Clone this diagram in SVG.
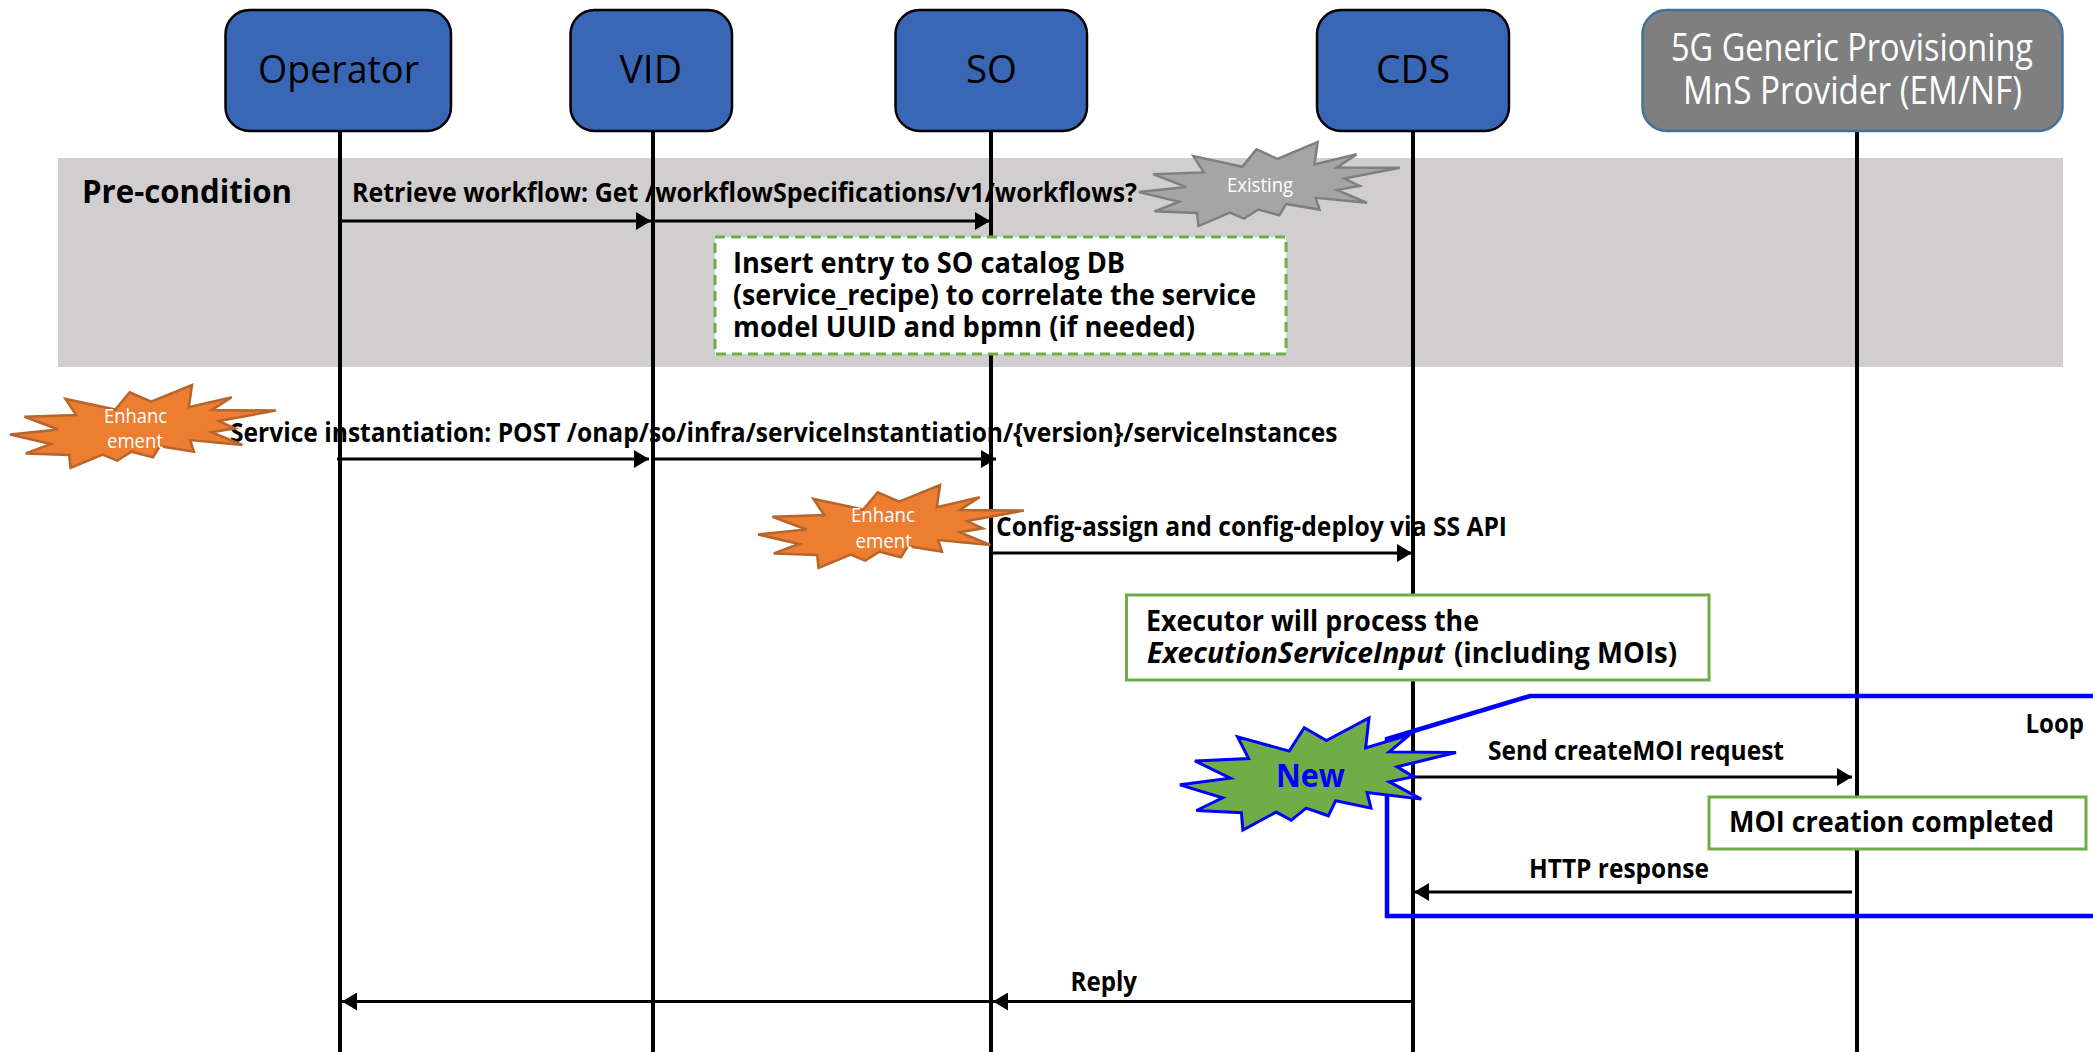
<svg xmlns="http://www.w3.org/2000/svg" xmlns:xlink="http://www.w3.org/1999/xlink" width="2093" height="1052" viewBox="0 0 2093 1052">
<style>
text{font-family:"Open Sans","Noto Sans","Liberation Sans",sans-serif;fill:#000}
.m{font-size:26px;font-weight:700}
.b{font-size:28px;font-weight:700}
.n{font-size:39px}
.s{font-size:20px;fill:#fff}
.w{fill:#fff}
.box{fill:#3a67b5;stroke:#000;stroke-width:2.5}
.life{stroke:#000;stroke-width:4;fill:none}
.arr{stroke:#000;stroke-width:3.2;fill:none;marker-end:url(#ah)}
.note{fill:#fff;stroke:#70ad47;stroke-width:3}
.seal{vector-effect:non-scaling-stroke}
</style>
<defs>
<marker id="ah" markerUnits="userSpaceOnUse" markerWidth="16" markerHeight="18" refX="15" refY="9" orient="auto"><path d="M0,0L15,9L0,18Z" fill="#000"/></marker>
<path id="seal" class="seal" d="M11462,4342L14790,0L14525,5777L18007,3172L16380,6532L21600,6645L16985,9402L18270,11290L16380,12310L18877,15632L14640,14350L14942,17370L12180,15935L11612,18842L9872,17370L8700,19712L7527,18125L4917,21600L4805,18240L1285,17825L3330,15370L0,12877L3935,11592L1172,8270L5372,7817L4502,3625L8550,6382L9722,1887Z"/>
</defs>
<g id="lifelines">
<path class="life" d="M340,131V1052M653,131V1052M991,131V1052M1413,131V1052M1857,131V1052"/>
</g>
<g id="precondition">
<rect x="58" y="158" width="2005" height="209" fill="#d0cece"/>
<path class="life" d="M340,158V367M653,158V367M991,158V367M1413,158V367M1857,158V367"/>
<text x="82" y="203" font-size="33" font-weight="700" textLength="210" lengthAdjust="spacingAndGlyphs">Pre-condition</text>
</g>
<g id="operator"><rect class="box" x="225.500" y="10" width="225.500" height="121" rx="24"/><text class="n" x="258" y="83" textLength="161" lengthAdjust="spacingAndGlyphs">Operator</text></g>
<g id="vid"><rect class="box" x="570.500" y="10" width="161.500" height="121" rx="24"/><text class="n" x="619.500" y="83" textLength="62.500" lengthAdjust="spacingAndGlyphs">VID</text></g>
<g id="so"><rect class="box" x="895.500" y="10" width="191.500" height="121" rx="24"/><text class="n" x="966" y="83" textLength="51" lengthAdjust="spacingAndGlyphs">SO</text></g>
<g id="cds"><rect class="box" x="1317" y="10" width="192" height="121" rx="24"/><text class="n" x="1376" y="83" textLength="74" lengthAdjust="spacingAndGlyphs">CDS</text></g>
<g id="provider"><rect x="1642.500" y="10" width="420" height="121" rx="24" fill="#7f7f7f" stroke="#41719c" stroke-width="2.500"/>
<text class="n w" x="1671" y="61" textLength="362" lengthAdjust="spacingAndGlyphs">5G Generic Provisioning</text>
<text class="n w" x="1683" y="104" textLength="339" lengthAdjust="spacingAndGlyphs">MnS Provider (EM/NF)</text></g>
<g id="loop-frame">
<path d="M2093,696H1530L1387,739V916H2093" fill="none" stroke="#0000ff" stroke-width="4.500"/>
<text class="m" x="2025.500" y="733" textLength="58.500" lengthAdjust="spacingAndGlyphs">Loop</text>
</g>
<g id="connectors">
<path class="arr" d="M341,221H651"/>
<path class="arr" d="M654,221H990"/>
<path class="arr" d="M337,459H649"/>
<path class="arr" d="M652,459H996"/>
<path class="arr" d="M991,553H1412"/>
<path class="arr" d="M1413,777H1852"/>
<path class="arr" d="M1852,892H1414"/>
<path class="arr" d="M1413,1001.500H993"/>
<path class="arr" d="M991,1001.500H342"/>
<text class="m" x="352" y="202" textLength="785" lengthAdjust="spacingAndGlyphs">Retrieve workflow: Get /workflowSpecifications/v1/workflows?</text>
<text class="m" x="230" y="442" textLength="1107.500" lengthAdjust="spacingAndGlyphs">Service instantiation: POST /onap/so/infra/serviceInstantiation/{version}/serviceInstances</text>
<text class="m" x="996" y="536" textLength="511" lengthAdjust="spacingAndGlyphs">Config-assign and config-deploy via SS API</text>
<text class="m" x="1488" y="759.500" textLength="296" lengthAdjust="spacingAndGlyphs">Send createMOI request</text>
<text class="m" x="1529" y="878" textLength="180" lengthAdjust="spacingAndGlyphs">HTTP response</text>
<text class="m" x="1070.500" y="990.500" textLength="66.500" lengthAdjust="spacingAndGlyphs">Reply</text>
</g>
<g id="note-insert"><rect x="715" y="237" width="571" height="117" fill="#fff" stroke="#70ad47" stroke-width="3" stroke-dasharray="10 6"/>
<text class="b" x="733" y="273" textLength="392" lengthAdjust="spacingAndGlyphs">Insert entry to SO catalog DB</text>
<text class="b" x="733" y="305" textLength="523" lengthAdjust="spacingAndGlyphs">(service_recipe) to correlate the service</text>
<text class="b" x="733" y="337" textLength="462" lengthAdjust="spacingAndGlyphs">model UUID and bpmn (if needed)</text></g>
<g id="note-executor"><rect class="note" x="1126.500" y="595" width="582.500" height="85"/>
<text class="b" x="1146" y="631" textLength="333" lengthAdjust="spacingAndGlyphs">Executor will process the</text>
<text class="b" x="1147" y="663" style="font-style:italic" textLength="298" lengthAdjust="spacingAndGlyphs">ExecutionServiceInput</text>
<text class="b" x="1454" y="663" textLength="223" lengthAdjust="spacingAndGlyphs">(including MOIs)</text></g>
<g id="note-moi"><rect class="note" x="1709" y="797" width="377" height="52"/>
<text class="b" x="1729" y="832" textLength="325" lengthAdjust="spacingAndGlyphs">MOI creation completed</text></g>
<g id="badge-existing"><use xlink:href="#seal" href="#seal" transform="translate(1139,142) scale(0.01208,0.00389)" fill="#a5a5a5" stroke="#7f7f7f" stroke-width="2.500"/>
<text class="s" x="1227" y="192" textLength="66" lengthAdjust="spacingAndGlyphs">Existing</text></g>
<g id="badge-enhancement-1"><use xlink:href="#seal" href="#seal" transform="translate(10,385) scale(0.01231,0.00384)" fill="#ed7d31" stroke="#b8652a" stroke-width="2.500"/>
<text class="s" x="104" y="423" textLength="63" lengthAdjust="spacingAndGlyphs">Enhanc</text>
<text class="s" x="107" y="448" textLength="56" lengthAdjust="spacingAndGlyphs">ement</text></g>
<g id="badge-enhancement-2"><use xlink:href="#seal" href="#seal" transform="translate(758,485) scale(0.01231,0.00384)" fill="#ed7d31" stroke="#b8652a" stroke-width="2.500"/>
<text class="s" x="851" y="522" textLength="64" lengthAdjust="spacingAndGlyphs">Enhanc</text>
<text class="s" x="855.500" y="548" textLength="56.500" lengthAdjust="spacingAndGlyphs">ement</text></g>
<g id="badge-new"><use xlink:href="#seal" href="#seal" transform="translate(1180,718) scale(0.01278,0.00519)" fill="#70ad47" stroke="#0000ff" stroke-width="3"/>
<text x="1276" y="787" font-size="33" font-weight="700" style="fill:#0000ff" textLength="69" lengthAdjust="spacingAndGlyphs">New</text></g>
</svg>
